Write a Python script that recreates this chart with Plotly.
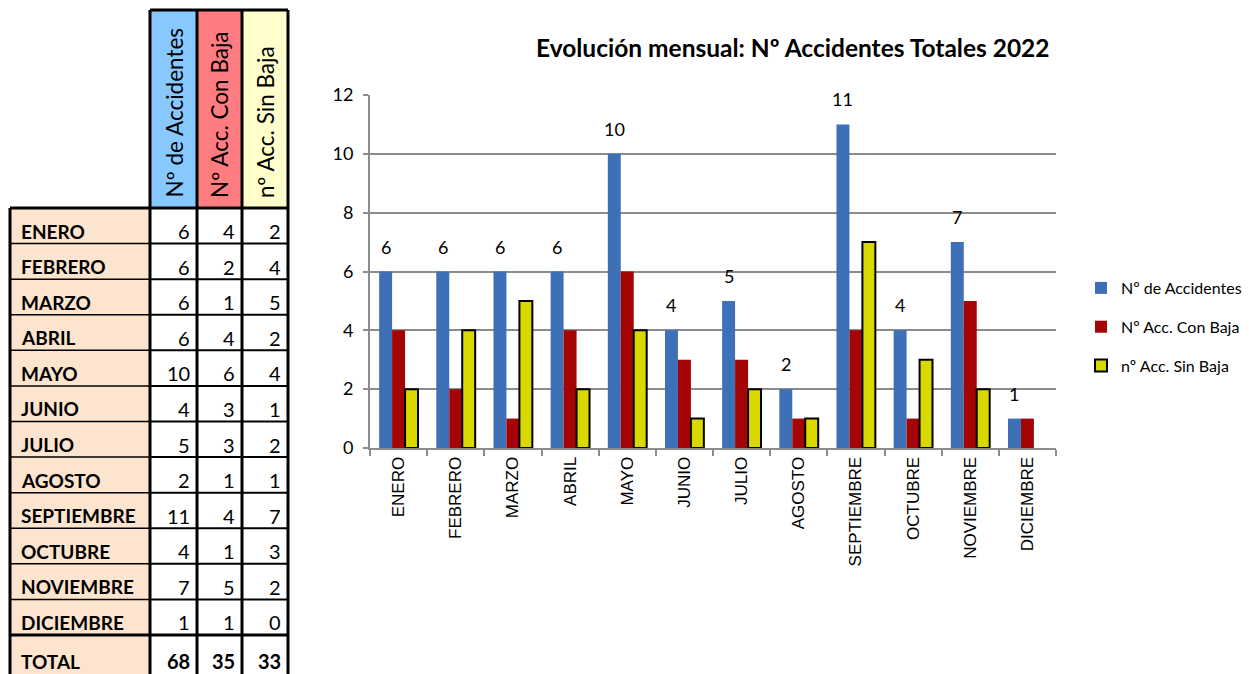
import plotly.graph_objects as go

W, H = 1249, 674

months = ["ENERO", "FEBRERO", "MARZO", "ABRIL", "MAYO", "JUNIO", "JULIO",
          "AGOSTO", "SEPTIEMBRE", "OCTUBRE", "NOVIEMBRE", "DICIEMBRE"]
total_acc = [6, 6, 6, 6, 10, 4, 5, 2, 11, 4, 7, 1]
con_baja = [4, 2, 1, 4, 6, 3, 3, 1, 4, 1, 5, 1]
sin_baja = [2, 4, 5, 2, 4, 1, 2, 1, 7, 3, 2, 0]

series_names = ["Nº de Accidentes", "Nº Acc. Con Baja", "nº Acc. Sin Baja"]
header_names = ["Nº de Accidentes", "Nº Acc. Con Baja", "nº Acc. Sin Baja"]
y_ticks = [0, 2, 4, 6, 8, 10, 12]
title_text = "Evolución mensual: Nº Accidentes Totales 2022"
total_label = "TOTAL"

FONT = "Lato"
BLUE = "#3D70B6"
RED = "#A50404"
YELLOW = "#D9D900"
GRID = "#8C8C8C"
BARGAP = 0.32

fig = go.Figure()

# ---- bar chart ----
colors = [BLUE, RED, YELLOW]
data = [total_acc, con_baja, sin_baja]
for k, (name, vals, col) in enumerate(zip(series_names, data, colors)):
    if k == 2:
        line = dict(color="black", width=[2 if v > 0 else 0 for v in vals])
    else:
        line = dict(color=col, width=0)
    fig.add_trace(go.Bar(
        x=months, y=vals, name=name, marker=dict(color=col, line=line),
        legendgroup=f"g{k}", xaxis="x", yaxis="y",
    ))

# data labels above the blue bars
offset = (1 - BARGAP) / 3
for i, v in enumerate(total_acc):
    fig.add_annotation(
        x=i - offset, y=v, xref="x", yref="y", text=str(v), showarrow=False,
        yanchor="bottom", yshift=12, font=dict(family=FONT, size=18, color="black"),
    )

fig.add_annotation(
    x=793 / W, y=1 - 47 / H, xref="paper", yref="paper", text=f"<b>{title_text}</b>",
    showarrow=False, xanchor="center", yanchor="middle",
    font=dict(family=FONT, size=24.5, color="black"),
)

# ---- table (drawn on a pixel-scaled helper subplot) ----
fig.add_trace(go.Scatter(x=[None], y=[None], xaxis="x2", yaxis="y2",
                         showlegend=False, hoverinfo="skip"))

tx0, tx_lab, tcols = 10, 150, [150, 197, 242, 288]
hy0, hy1 = 10, 208
n = len(months)
row_h = (635 - hy1) / n
rows_top = [hy1 + i * row_h for i in range(n)] + [hy1 + n * row_h]
header_fill = ["#87C8FE", "#FF7C80", "#FFFFCC"]
label_fill = "#FDE4CE"

shapes = []
def rect(x0, y0, x1, y1, fill, lw=0, lc="black"):
    shapes.append(dict(type="rect", xref="x2", yref="y2", x0=x0, x1=x1, y0=y0, y1=y1,
                       fillcolor=fill, line=dict(width=lw, color=lc), layer="below"))
def line(x0, y0, x1, y1, lw):
    shapes.append(dict(type="line", xref="x2", yref="y2", x0=x0, x1=x1, y0=y0, y1=y1,
                       line=dict(width=lw, color="black"), layer="above"))

# fills
for c in range(3):
    rect(tcols[c], hy0, tcols[c + 1], hy1, header_fill[c])
rect(tx0, hy1, tx_lab, H + 5, label_fill)
rect(tcols[0], hy1, tcols[3], H + 5, "white")

# borders
line(tcols[0], hy0, tcols[3], hy0, 3)
for xc in tcols:
    line(xc, hy0, xc, H + 5, 3)
line(tx0, hy1, tcols[3], hy1, 3)
line(tx0, hy1, tx0, H + 5, 3)
for i in range(1, n):
    line(tx0, rows_top[i], tx_lab, rows_top[i], 1.5)
    line(tcols[0], rows_top[i], tcols[3], rows_top[i], 2)
line(tx0, rows_top[n], tcols[3], rows_top[n], 3)

ann = []
for c, name in enumerate(header_names):
    ann.append(dict(x=(tcols[c] + tcols[c + 1]) / 2, y=hy1 - 8, xref="x2", yref="y2",
                    text=name, textangle=-90, showarrow=False, xanchor="center",
                    yanchor="bottom", font=dict(family=FONT, size=22.5, color="black")))

table_rows = [(m, [a, b, c]) for m, a, b, c in zip(months, total_acc, con_baja, sin_baja)]
table_rows.append((total_label, [sum(total_acc), sum(con_baja), sum(sin_baja)]))
for i, (lab, vals) in enumerate(table_rows):
    bold = i == n
    yc = rows_top[i] + (23 if i < n else 26)
    ann.append(dict(x=tx0 + 9, y=yc, xref="x2", yref="y2", text=f"<b>{lab}</b>",
                    showarrow=False, xanchor="left", yanchor="middle",
                    font=dict(family=FONT, size=19, color="black")))
    for c, v in enumerate(vals):
        ann.append(dict(x=tcols[c + 1] - 5, y=yc, xref="x2", yref="y2",
                        text=f"<b>{v}</b>" if bold else str(v),
                        showarrow=False, xanchor="right", yanchor="middle",
                        font=dict(family=FONT, size=20, color="black")))
for a in ann:
    fig.add_annotation(**a)

fig.update_layout(
    width=W, height=H, autosize=False,
    margin=dict(l=0, r=0, t=0, b=0, autoexpand=False),
    paper_bgcolor="white", plot_bgcolor="rgba(0,0,0,0)",
    barmode="group", bargap=BARGAP, bargroupgap=0,
    shapes=shapes,
    showlegend=True,
    legend=dict(x=1081 / W, y=1 - 271 / H, xanchor="left", yanchor="top",
                font=dict(family=FONT, size=16, color="black"),
                tracegroupgap=15, itemclick=False, bgcolor="rgba(0,0,0,0)"),
    xaxis=dict(domain=[370 / W, 1056 / W], anchor="y", type="category",
               tickangle=-90, tickson="boundaries", ticks="outside", ticklen=6,
               tickcolor=GRID, tickwidth=2, showline=True, linecolor=GRID, linewidth=2,
               tickfont=dict(family="Liberation Sans", size=17, color="black"),
               showgrid=False, fixedrange=True, automargin=False),
    yaxis=dict(domain=[1 - 448 / H, 1 - 95 / H], anchor="x", range=[0, 12],
               tickvals=y_ticks, ticks="outside", ticklen=5, tickcolor=GRID, tickwidth=2,
               showline=True, linecolor=GRID, linewidth=2, showgrid=True,
               gridcolor=GRID, gridwidth=2, zeroline=False, automargin=False,
               ticklabelstandoff=6,
               tickfont=dict(family=FONT, size=18, color="black"), fixedrange=True),
    xaxis2=dict(domain=[0, 1], anchor="y2", range=[0, W], visible=False, fixedrange=True),
    yaxis2=dict(domain=[0, 1], anchor="x2", range=[H, 0], visible=False, fixedrange=True),
)

fig.write_html("out.html", post_script="document.body.style.margin='0';",
               config={"displayModeBar": False})
